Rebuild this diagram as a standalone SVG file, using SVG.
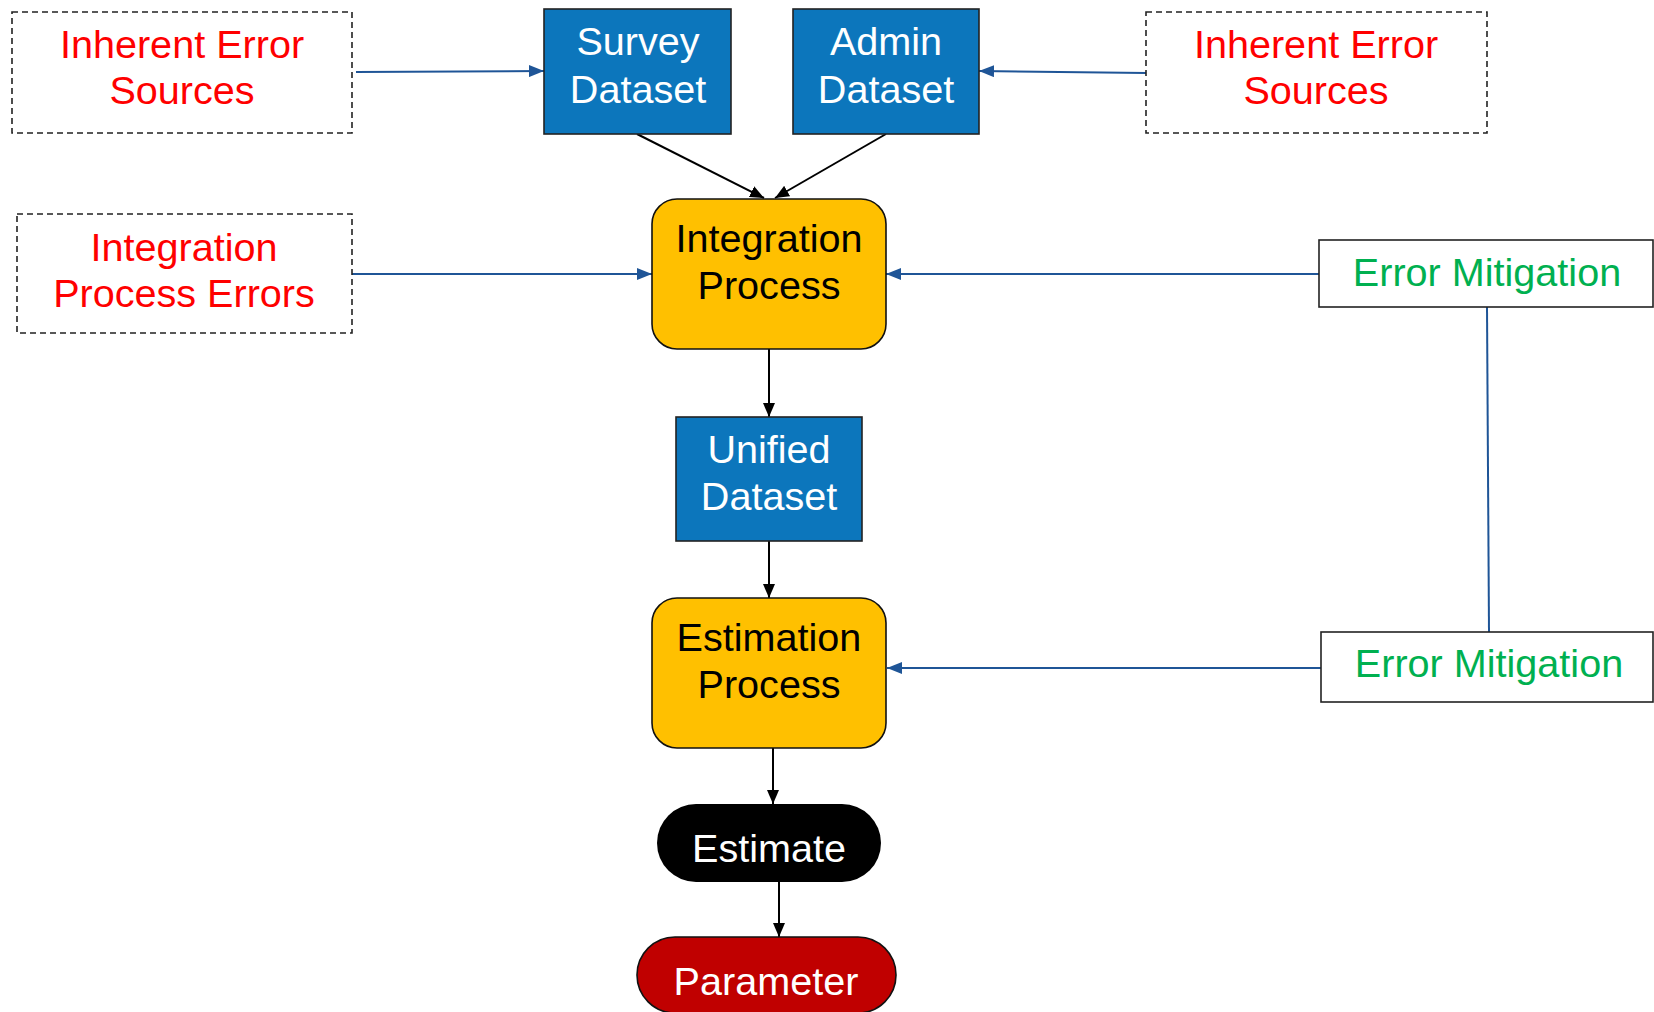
<svg xmlns="http://www.w3.org/2000/svg" width="1654" height="1012" viewBox="0 0 1654 1012">
  <defs>
    <marker id="headBlack" markerUnits="userSpaceOnUse" markerWidth="14" markerHeight="12" viewBox="0 0 14 12" refX="14" refY="6" orient="auto">
      <path d="M0,0 L14,6 L0,12 Z" fill="#000"/>
    </marker>
    <marker id="headBlue" markerUnits="userSpaceOnUse" markerWidth="15" markerHeight="12" viewBox="0 0 15 12" refX="15" refY="6" orient="auto">
      <path d="M0,0 L15,6 L0,12 Z" fill="#1F5597"/>
    </marker>
    <style>
      text { font-family: "Liberation Sans", Arial, sans-serif; font-size: 39.6px; text-anchor: middle; }
      .dashed { fill: #fff; stroke: #222; stroke-width: 1.6; stroke-dasharray: 6 4; }
      .data { fill: #0C76BC; stroke: #222; stroke-width: 1.6; }
      .proc { fill: #FFC000; stroke: #111; stroke-width: 1.6; }
      .plain { fill: #fff; stroke: #222; stroke-width: 1.6; }
      .red { fill: #FF0000; }
      .green { fill: #00B050; }
      .white { fill: #fff; }
      .black { fill: #000; }
      .flow { stroke: #000; stroke-width: 2; fill: none; marker-end: url(#headBlack); }
      .feed { stroke: #1F5597; stroke-width: 2; fill: none; }
      .feedArrow { stroke: #1F5597; stroke-width: 2; fill: none; marker-end: url(#headBlue); }
    </style>
  </defs>

  <rect width="1654" height="1012" fill="#fff"/>

  <!-- connectors -->
  <g id="connectors">
    <line class="feedArrow" x1="356" y1="72" x2="544" y2="71"/>
    <line class="feedArrow" x1="1146" y1="73" x2="979" y2="71"/>
    <line class="flow" x1="637" y1="134" x2="764" y2="198"/>
    <line class="flow" x1="886" y1="134" x2="775" y2="198"/>
    <line class="feedArrow" x1="352" y1="274" x2="652" y2="274"/>
    <line class="feedArrow" x1="1319" y1="274" x2="886" y2="274"/>
    <line class="feed" x1="1487" y1="307" x2="1489" y2="632"/>
    <line class="flow" x1="769" y1="349" x2="769" y2="417"/>
    <line class="flow" x1="769" y1="541" x2="769" y2="598"/>
    <line class="feedArrow" x1="1321" y1="668" x2="887" y2="668"/>
    <line class="flow" x1="773" y1="748" x2="773" y2="804"/>
    <line class="flow" x1="779" y1="882" x2="779" y2="937"/>
  </g>

  <!-- error sources -->
  <g id="inherent-left">
    <rect class="dashed" x="12" y="12" width="340" height="121"/>
    <text class="red" x="182" y="58">Inherent Error</text>
    <text class="red" x="182" y="104">Sources</text>
  </g>
  <g id="inherent-right">
    <rect class="dashed" x="1146" y="12" width="341" height="121"/>
    <text class="red" x="1316" y="58">Inherent Error</text>
    <text class="red" x="1316" y="104">Sources</text>
  </g>
  <g id="integration-errors">
    <rect class="dashed" x="17" y="214" width="335" height="119"/>
    <text class="red" x="184" y="261">Integration</text>
    <text class="red" x="184" y="307">Process Errors</text>
  </g>

  <!-- datasets -->
  <g id="survey-dataset">
    <rect class="data" x="544" y="9" width="187" height="125"/>
    <text class="white" x="638" y="55">Survey</text>
    <text class="white" x="638" y="103">Dataset</text>
  </g>
  <g id="admin-dataset">
    <rect class="data" x="793" y="9" width="186" height="125"/>
    <text class="white" x="886" y="55">Admin</text>
    <text class="white" x="886" y="103">Dataset</text>
  </g>

  <!-- processes -->
  <g id="integration-process">
    <rect class="proc" x="652" y="199" width="234" height="150" rx="25" ry="25"/>
    <text class="black" x="769" y="252">Integration</text>
    <text class="black" x="769" y="299">Process</text>
  </g>
  <g id="unified-dataset">
    <rect class="data" x="676" y="417" width="186" height="124"/>
    <text class="white" x="769" y="463">Unified</text>
    <text class="white" x="769" y="510">Dataset</text>
  </g>
  <g id="estimation-process">
    <rect class="proc" x="652" y="598" width="234" height="150" rx="25" ry="25"/>
    <text class="black" x="769" y="651">Estimation</text>
    <text class="black" x="769" y="698">Process</text>
  </g>

  <!-- mitigation -->
  <g id="mitigation-integration">
    <rect class="plain" x="1319" y="240" width="334" height="67"/>
    <text class="green" x="1487" y="286">Error Mitigation</text>
  </g>
  <g id="mitigation-estimation">
    <rect class="plain" x="1321" y="632" width="332" height="70"/>
    <text class="green" x="1489" y="677">Error Mitigation</text>
  </g>

  <!-- outputs -->
  <g id="estimate">
    <rect x="657" y="804" width="224" height="78" rx="39" ry="39" fill="#000"/>
    <text class="white" x="769" y="862">Estimate</text>
  </g>
  <g id="parameter">
    <rect x="637" y="937" width="259" height="76" rx="38" ry="38" fill="#C00000" stroke="#111" stroke-width="1.6"/>
    <text class="white" x="766" y="995">Parameter</text>
  </g>
</svg>
